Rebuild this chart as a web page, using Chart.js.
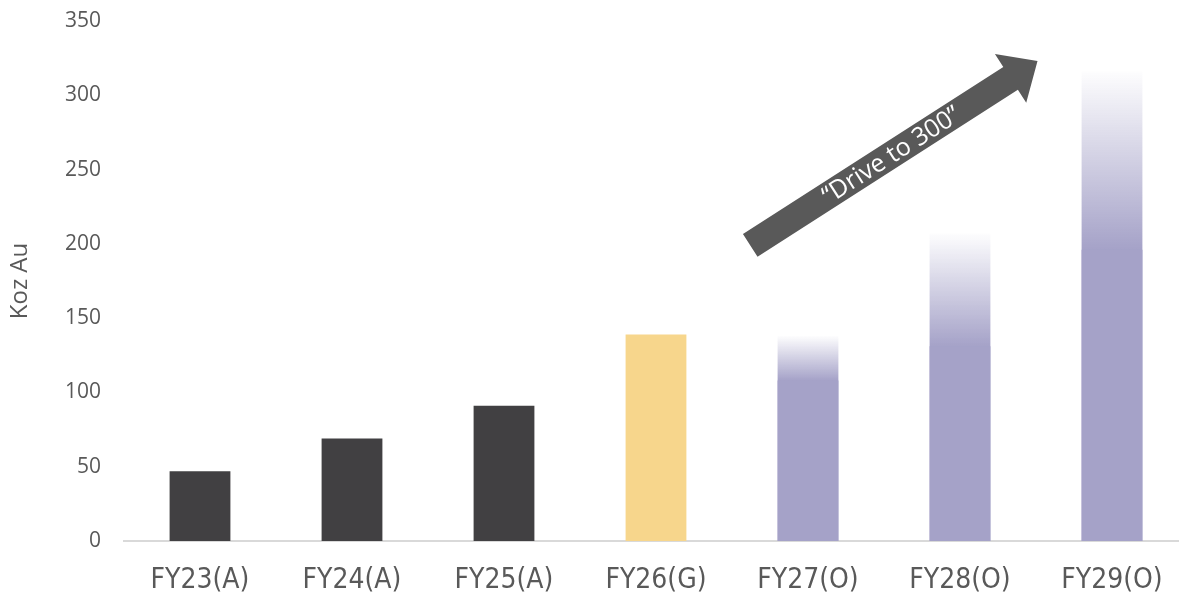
<!DOCTYPE html>
<html>
<head>
<meta charset="utf-8">
<script src="https://cdn.jsdelivr.net/npm/chart.js@4"></script>
<style>
  html, body { margin: 0; padding: 0; background: #fff; overflow: hidden; }
  #wrap { width: 1190px; height: 599px; }
</style>
</head>
<body>
<div id="wrap"><canvas id="chart"></canvas></div>
<script>
// Production by financial year, Koz Au
const YEARS       = ['FY23(A)', 'FY24(A)', 'FY25(A)', 'FY26(G)', 'FY27(O)', 'FY28(O)', 'FY29(O)'];
const BASE        = [47, 69, 91, 139, 108, 131, 196];          // solid part of each bar
const OUTLOOK_TOP = [null, null, null, null, 138, 207, 316];   // top of faded outlook range
const Y_TICKS     = [0, 50, 100, 150, 200, 250, 300, 350];

// arrow annotation, in data units: [category index, Koz]
const ARROW_FROM  = [3.62, 199];
const ARROW_TO    = [5.51, 323];
const ARROW_LABEL = '“Drive to 300”';

const DARK   = '#414042';
const GOLD   = '#F7D68C';
const PURPLE = '#A5A2C8';
const BASE_COLORS = [DARK, DARK, DARK, GOLD, PURPLE, PURPLE, PURPLE];

// ── Gradient for outlook range (solid up to base, fading to the top) ─────────
function fadeFill(c) {
  const chart = c.chart;
  const y = chart.scales.y;
  if (!chart.chartArea || !y || c.dataIndex === undefined) return PURPLE;
  const i = c.dataIndex;
  const g = chart.ctx.createLinearGradient(0, y.getPixelForValue(BASE[i]), 0, y.getPixelForValue(OUTLOOK_TOP[i] || 0));
  g.addColorStop(0, PURPLE);
  g.addColorStop(1, 'rgba(165,162,200,0.02)');
  return g;
}

// ── Arrow plugin ──────────────────────────────────────────────────────────────
const arrowPlugin = {
  id: 'driveArrow',
  afterDatasetsDraw(chart) {
    const { ctx, scales: { x, y } } = chart;
    const x0 = x.getPixelForValue(ARROW_FROM[0]), y0 = y.getPixelForValue(ARROW_FROM[1]);
    const x1 = x.getPixelForValue(ARROW_TO[0]),   y1 = y.getPixelForValue(ARROW_TO[1]);
    const len = Math.hypot(x1 - x0, y1 - y0);
    const ang = Math.atan2(y1 - y0, x1 - x0);
    const shaftW = 27, headW = 58, headL = 32;

    ctx.save();
    ctx.translate(x0, y0);
    ctx.rotate(ang);
    ctx.fillStyle = '#595959';
    ctx.beginPath();
    ctx.moveTo(0, -shaftW / 2);
    ctx.lineTo(len - headL, -shaftW / 2);
    ctx.lineTo(len - headL, -headW / 2);
    ctx.lineTo(len, 0);
    ctx.lineTo(len - headL, headW / 2);
    ctx.lineTo(len - headL, shaftW / 2);
    ctx.lineTo(0, shaftW / 2);
    ctx.closePath();
    ctx.fill();

    ctx.fillStyle = '#ffffff';
    ctx.font = '25px "Open Sans", "Noto Sans", sans-serif';
    ctx.textAlign = 'center';
    ctx.textBaseline = 'middle';
    ctx.fillText(ARROW_LABEL, len * 0.49, 1);
    ctx.restore();
  }
};

// ── Chart ─────────────────────────────────────────────────────────────────────
new Chart(document.getElementById('chart'), {
  type: 'bar',
  data: {
    labels: YEARS,
    datasets: [
      {
        label: 'Base',
        data: BASE,
        backgroundColor: BASE_COLORS,
        borderWidth: 0,
        grouped: false,
        order: 1,
        categoryPercentage: 0.8,
        barPercentage: 0.5,
      },
      {
        label: 'Outlook range',
        data: OUTLOOK_TOP,
        backgroundColor: fadeFill,
        borderWidth: 0,
        grouped: false,
        order: 2,
        categoryPercentage: 0.8,
        barPercentage: 0.5,
      },
    ],
  },
  options: {
    responsive: true,
    maintainAspectRatio: false,
    animation: false,
    events: [],
    layout: { padding: { top: 0, right: 2, bottom: 0, left: 0 } },
    plugins: {
      legend: { display: false },
      tooltip: { enabled: false },
    },
    scales: {
      x: {
        afterFit: s => { s.height = 58; },
        grid: { drawOnChartArea: false, drawTicks: false },
        border: { color: '#d9d9d9', width: 2 },
        ticks: {
          color: '#595959',
          padding: 23,
          font: { family: '"Liberation Sans Narrow", "DejaVu Sans Condensed", sans-serif', size: 28 },
        },
      },
      y: {
        min: 0,
        max: 350,
        afterBuildTicks: s => { s.ticks = Y_TICKS.map(v => ({ value: v })); },
        afterFit: s => { s.width = 124; s.paddingTop = 21; s.paddingBottom = 0; },
        grid: { display: false },
        border: { display: false },
        ticks: {
          color: '#595959',
          padding: 15,
          font: { family: '"Open Sans", "Noto Sans", sans-serif', size: 21 },
        },
        title: {
          display: true,
          text: 'Koz Au',
          color: '#595959',
          padding: { top: 6, bottom: 0 },
          font: { family: '"Open Sans", "Noto Sans", sans-serif', size: 24 },
        },
      },
    },
  },
  plugins: [arrowPlugin],
});
</script>
</body>
</html>
